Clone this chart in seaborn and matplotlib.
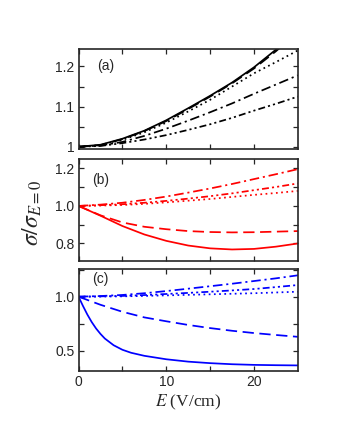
import matplotlib
matplotlib.use("Agg")
import matplotlib.pyplot as plt
import seaborn as sns
import numpy as np
from matplotlib.ticker import MultipleLocator, FixedLocator, FixedFormatter

# ---------------- data ----------------
E = [0, 2.5, 5, 7.5, 10, 12.5, 15, 17.5, 20, 22.5, 25]
E_fine = [0, 0.5, 1, 1.5, 2, 2.5, 3, 4, 5, 6, 7.5, 10, 12.5, 15, 17.5, 20, 22.5, 25]

a_solid = [1.000, 1.005, 1.020, 1.040, 1.066, 1.096, 1.127, 1.160, 1.198, 1.242, 1.290]
a_dashed = [1.000, 1.004, 1.019, 1.039, 1.064, 1.094, 1.125, 1.158, 1.195, 1.238, 1.285]
a_dotted = [1.000, 1.004, 1.017, 1.036, 1.060, 1.088, 1.117, 1.150, 1.183, 1.211, 1.240]
a_dashdot = [1.000, 1.003, 1.012, 1.027, 1.045, 1.065, 1.086, 1.108, 1.132, 1.155, 1.178]
a_dashdotdot = [1.000, 1.002, 1.009, 1.018, 1.029, 1.042, 1.056, 1.072, 1.090, 1.107, 1.125]

b_solid = [1.000, 0.948, 0.893, 0.848, 0.814, 0.789, 0.774, 0.768, 0.771, 0.783, 0.800]
b_dashed = [1.000, 0.950, 0.912, 0.889, 0.876, 0.866, 0.861, 0.859, 0.860, 0.863, 0.866]
b_dotted = [1.000, 1.002, 1.005, 1.011, 1.019, 1.028, 1.037, 1.048, 1.059, 1.069, 1.080]
b_dashdot = [1.000, 1.007, 1.017, 1.032, 1.050, 1.071, 1.093, 1.117, 1.143, 1.169, 1.196]
b_dashdotdot = [1.000, 1.004, 1.009, 1.017, 1.027, 1.039, 1.052, 1.067, 1.084, 1.101, 1.120]

c_solid = [1.0, 0.915, 0.835, 0.765, 0.705, 0.655, 0.612, 0.55, 0.508, 0.48, 0.452,
           0.42, 0.398, 0.384, 0.374, 0.368, 0.365, 0.363]
c_dashed = [1.000, 0.925, 0.860, 0.808, 0.772, 0.738, 0.709, 0.684, 0.663, 0.645, 0.628]
c_dotted = [1.000, 1.001, 1.003, 1.007, 1.012, 1.017, 1.022, 1.027, 1.032, 1.039, 1.046]
c_dashdot = [1.000, 1.006, 1.016, 1.032, 1.052, 1.074, 1.097, 1.120, 1.145, 1.170, 1.198]
c_dashdotdot = [1.000, 1.003, 1.007, 1.015, 1.025, 1.035, 1.046, 1.058, 1.071, 1.089, 1.108]

panel_labels = ["(a)", "(b)", "(c)"]
panel_colors = ["black", "#ff0000", "#0000ff"]
a_yticks = [1.0, 1.1, 1.2]
a_yticklabels = ["1", "1.1", "1.2"]
b_yticks = [0.8, 1.0, 1.2]
b_yticklabels = ["0.8", "1.0", "1.2"]
c_yticks = [0.5, 1.0]
c_yticklabels = ["0.5", "1.0"]
x_ticks = [0, 10, 20]
x_ticklabels = ["0", "10", "20"]

# ---------------- style ----------------
sns.set_theme(style="ticks")
plt.rcParams["font.family"] = ["Liberation Sans", "DejaVu Sans"]
plt.rcParams["mathtext.fontset"] = "stix"

styles = {
    "solid": "-",
    "dashed": (0, (6.5, 3.2)),
    "dotted": (0, (1.0, 2.0)),
    "dashdot": (0, (5.5, 2.2, 1.2, 2.2)),
    "dashdotdot": (0, (4, 1.8, 1.2, 1.8, 1.2, 1.8)),
}

fig = plt.figure(figsize=(3.4, 4.4), dpi=100)
left, width = 0.231, 0.645
ax_a = fig.add_axes([left, 0.661, width, 0.228])
ax_b = fig.add_axes([left, 0.407, width, 0.232])
ax_c = fig.add_axes([left, 0.157, width, 0.232])

panels = [
    (ax_a, {"solid": (E, a_solid), "dashed": (E, a_dashed), "dotted": (E, a_dotted),
            "dashdot": (E, a_dashdot), "dashdotdot": (E, a_dashdotdot)},
     (0.994, 1.244), a_yticks, a_yticklabels, [1.05, 1.15], (0.125, 0.83)),
    (ax_b, {"solid": (E, b_solid), "dashed": (E, b_dashed), "dotted": (E, b_dotted),
            "dashdot": (E, b_dashdot), "dashdotdot": (E, b_dashdotdot)},
     (0.707, 1.251), b_yticks, b_yticklabels, [0.9, 1.1], (0.10, 0.79)),
    (ax_c, {"solid": (E_fine, c_solid), "dashed": (E, c_dashed), "dotted": (E, c_dotted),
            "dashdot": (E, c_dashdot), "dashdotdot": (E, c_dashdotdot)},
     (0.312, 1.258), c_yticks, c_yticklabels, [0.75, 1.25], (0.10, 0.90)),
]

for i, (ax, series, ylim, yt, ytl, yminor, lblpos) in enumerate(panels):
    col = panel_colors[i]
    for name, (xs, ys) in series.items():
        sns.lineplot(x=xs, y=ys, ax=ax, color=col, linewidth=1.25,
                     linestyle=styles[name], sort=False, estimator=None)
    ax.set_xlim(0, 25)
    ax.set_ylim(*ylim)
    ax.yaxis.set_major_locator(FixedLocator(yt))
    ax.yaxis.set_major_formatter(FixedFormatter(ytl))
    ax.yaxis.set_minor_locator(FixedLocator(yminor))
    ax.xaxis.set_major_locator(FixedLocator(x_ticks))
    ax.xaxis.set_minor_locator(FixedLocator([5, 15]))
    if i == 2:
        ax.xaxis.set_major_formatter(FixedFormatter(x_ticklabels))
    else:
        ax.set_xticklabels([])
    ax.tick_params(which="both", direction="in", top=True, right=True,
                   labelsize=10, width=0.9, pad=3)
    ax.tick_params(which="major", length=3.5)
    ax.tick_params(which="minor", length=3.5)
    for sp in ax.spines.values():
        sp.set_linewidth(1.2)
        sp.set_visible(True)
    ax.set_xlabel("")
    ax.set_ylabel("")
    ax.text(lblpos[0], lblpos[1], panel_labels[i], transform=ax.transAxes,
            fontsize=10, ha="center", va="center")

ax_c.set_xlabel(r"$E$ (V/cm)", fontsize=12.5, family="Liberation Serif", labelpad=3)
fig.text(0.095, 0.515, r"$\sigma/\sigma_{E=0}$", rotation=90, fontsize=17,
         ha="center", va="center")

fig.savefig("out.png", dpi=100)
